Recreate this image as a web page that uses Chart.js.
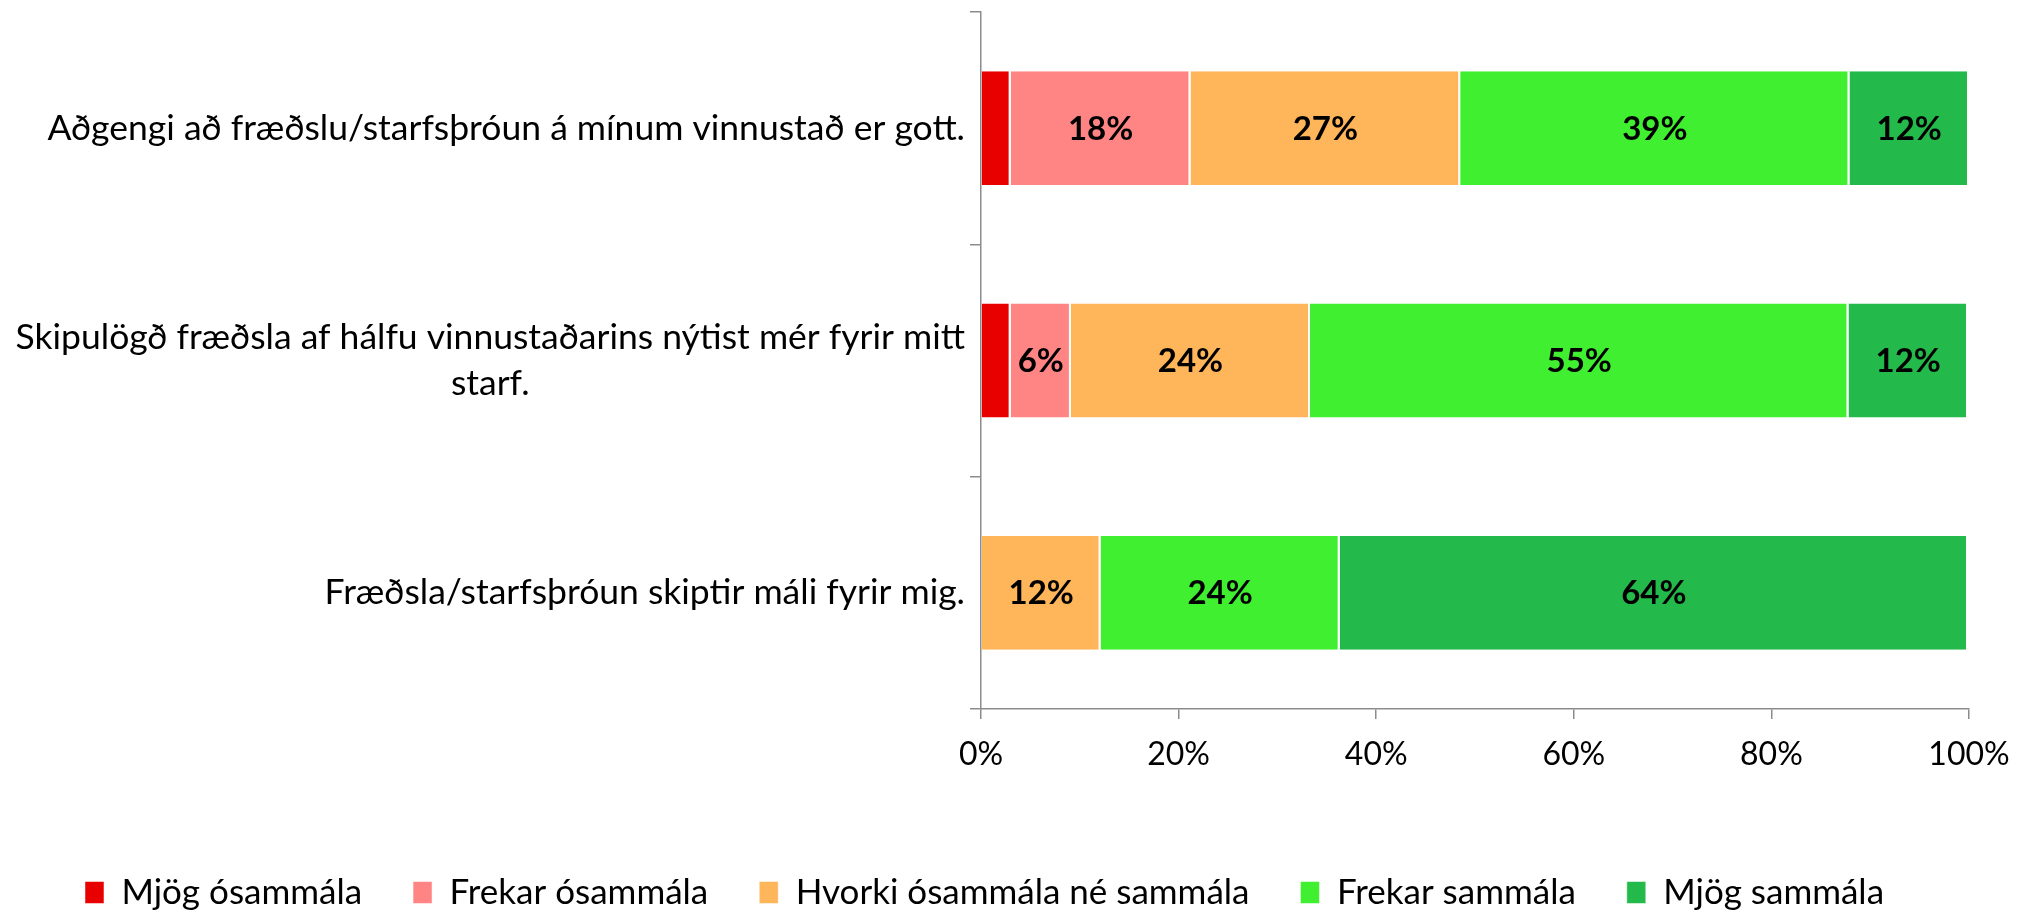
<!DOCTYPE html>
<html lang="is">
<head>
<meta charset="utf-8">
<style>
    body { margin: 0; background: #fff; }
    #wrap { width: 2017px; height: 914px; }
</style>
</head>
<body>
<div id="wrap"><canvas id="myChart"></canvas></div>

<script src="https://cdn.jsdelivr.net/npm/chart.js@4.4.0/dist/chart.umd.min.js"></script>
<script>
    // questions (top to bottom)
    var questions = [
        'Aðgengi að fræðslu/starfsþróun á mínum vinnustað er gott.',
        ['Skipulögð fræðsla af hálfu vinnustaðarins nýtist mér fyrir mitt', 'starf.'],
        'Fræðsla/starfsþróun skiptir máli fyrir mig.'
    ];

    // answer shares in %, one array per answer
    var mjogOsammala   = [3.0, 3.0, null];
    var frekarOsammala = [18.2, 6.1, null];
    var hvorki         = [27.3, 24.2, 12.1];
    var frekarSammala  = [39.4, 54.5, 24.2];
    var mjogSammala    = [12.1, 12.1, 63.6];

    var answerNames = ['Mjög ósammála', 'Frekar ósammála', 'Hvorki ósammála né sammála', 'Frekar sammála', 'Mjög sammála'];
    var answerColors = ['#e80000', '#ff8585', '#ffb55a', '#40f030', '#24ba4b'];
    var answerValues = [mjogOsammala, frekarOsammala, hvorki, frekarSammala, mjogSammala];

    var xTicks = [0, 20, 40, 60, 80, 100];

    var FONT = 'Lato, "Open Sans", sans-serif';
    var AXIS = '#8c8c8c';
    var LABEL_SIZE = 35.5;

    var datasets = [];
    for (var i = 0; i < answerNames.length; i++) {
        datasets.push({
            label: answerNames[i],
            data: answerValues[i],
            backgroundColor: answerColors[i],
            borderColor: '#ffffff',
            borderWidth: { left: 0, right: 2, top: 0, bottom: 0 },
            borderSkipped: false,
            categoryPercentage: 1,
            barPercentage: 0.49
        });
    }

    // bold % inside each segment
    var barLabels = {
        id: 'barLabels',
        afterDatasetsDraw: function (chart) {
            var ctx = chart.ctx;
            ctx.save();
            ctx.font = 'bold 33px ' + FONT;
            ctx.fillStyle = '#000';
            ctx.textAlign = 'center';
            ctx.textBaseline = 'middle';
            chart.data.datasets.forEach(function (ds, di) {
                var meta = chart.getDatasetMeta(di);
                meta.data.forEach(function (bar, j) {
                    var v = ds.data[j];
                    if (v == null || v < 5) return;
                    ctx.fillText(Math.round(v) + '%', (bar.x + bar.base) / 2, bar.y + 1);
                });
            });
            ctx.restore();
        }
    };

    // question text left of the axis, wrapped lines centred in their block
    var questionLabels = {
        id: 'questionLabels',
        afterDraw: function (chart) {
            var ctx = chart.ctx;
            var y = chart.scales.y;
            var right = y.right - 16;
            var lineH = LABEL_SIZE * 1.3;
            ctx.save();
            ctx.font = LABEL_SIZE + 'px ' + FONT;
            ctx.fillStyle = '#000';
            ctx.textAlign = 'center';
            ctx.textBaseline = 'middle';
            chart.data.labels.forEach(function (lab, i) {
                var lines = Array.isArray(lab) ? lab : [lab];
                var w = 0;
                lines.forEach(function (l) { w = Math.max(w, ctx.measureText(l).width); });
                var cx = right - w / 2;
                var cy = y.getPixelForValue(i);
                var y0 = cy - (lines.length - 1) * lineH / 2;
                lines.forEach(function (l, k) { ctx.fillText(l, cx, y0 + k * lineH); });
            });
            ctx.restore();
        }
    };

    var ctx = document.getElementById('myChart').getContext('2d');
    var chart = new Chart(ctx, {
        type: 'bar',
        data: { labels: questions, datasets: datasets },
        plugins: [barLabels, questionLabels],
        options: {
            indexAxis: 'y',
            responsive: true,
            maintainAspectRatio: false,
            animation: false,
            layout: { padding: { top: 12, right: 48, left: 0, bottom: -6 } },
            scales: {
                x: {
                    stacked: true,
                    min: 0,
                    max: 100,
                    afterBuildTicks: function (scale) {
                        scale.ticks = xTicks.map(function (v) { return { value: v }; });
                    },
                    afterFit: function (scale) {
                        scale.height = 115;
                        scale.paddingLeft = 0;
                        scale.paddingRight = 0;
                    },
                    border: { color: AXIS, width: 1.5 },
                    grid: { drawOnChartArea: false, color: AXIS, tickLength: 10, lineWidth: 1.5 },
                    ticks: {
                        color: '#000',
                        padding: 16,
                        font: { family: FONT, size: 32 },
                        callback: function (v) { return v + '%'; }
                    }
                },
                y: {
                    stacked: true,
                    afterFit: function (scale) {
                        scale.width = 981;
                        scale.paddingTop = 0;
                        scale.paddingBottom = 0;
                    },
                    border: { color: AXIS, width: 1.5 },
                    grid: { drawOnChartArea: false, color: AXIS, tickLength: 11, lineWidth: 1.5, offset: true },
                    ticks: { display: false }
                }
            },
            plugins: {
                legend: {
                    position: 'bottom',
                    labels: {
                        color: '#000',
                        boxWidth: 19,
                        boxHeight: 22,
                        padding: 51,
                        font: { family: FONT, size: 35 }
                    }
                },
                tooltip: { enabled: false }
            }
        }
    });
</script>
</body>
</html>
